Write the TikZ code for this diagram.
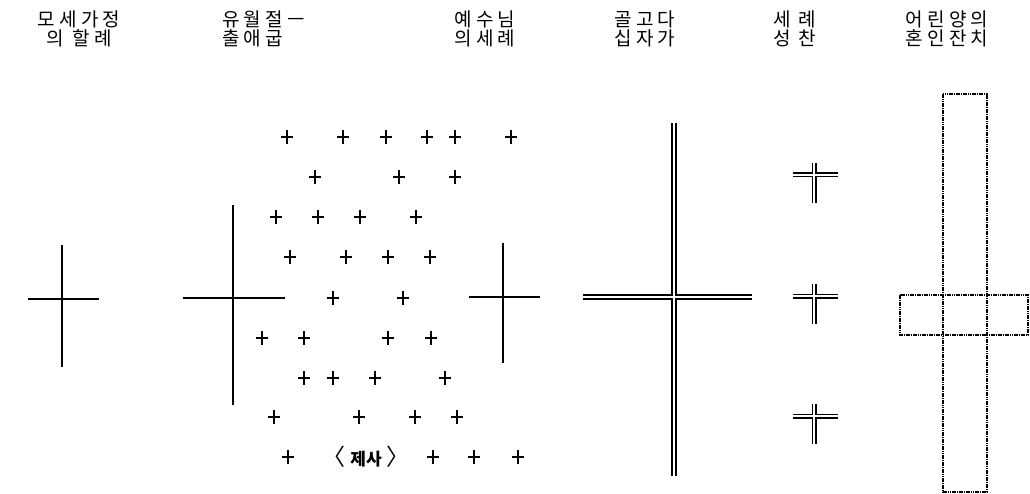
\documentclass[tikz,border=0pt]{standalone}
\usepackage{fontspec}
\newfontfamily\krsp[LetterSpace=22]{Noto Sans CJK KR}
\newfontfamily\krwide[LetterSpace=38]{Noto Sans CJK KR}
\newfontfamily\kr{Noto Sans CJK KR}
\tikzset{
  title/.style={font=\krsp\fontsize{19}{18.5}\selectfont, align=center, inner sep=0pt},
  titlewide/.style={font=\krwide\fontsize{19}{18.5}\selectfont, align=center, inner sep=0pt},
  single/.style={line width=2.6pt},
  dblout/.style={line width=6pt},
  dblin/.style={line width=1.7pt, white},
  sdblout/.style={line width=5pt},
  sdblin/.style={line width=1.3pt, white},
  dotbox/.style={line width=1.6pt, dash pattern=on 1.6pt off 0.7pt},
  pl/.pic={\draw[line width=2.8pt] (-6,0) -- (6,0) (0,-7) -- (0,7);},
  smallcross/.pic={
    \draw[sdblout] (0,-12) -- (0,28) (-21,0) -- (24,0);
    \draw[sdblin] (0,-12) -- (0,28) (-21,0) -- (24,0);
  }
}
\begin{document}
\begin{tikzpicture}[x=1pt,y=-1pt]
\useasboundingbox[fill=white] (0,0) rectangle (1030,494);

% titles
\node[title] (t1) at (79,29) {모세가정\\의 할례};
\node[title, align=left, anchor=west] (t2) at (222,29) {유월절ㅡ\\출애굽};
\node[title] (t3) at (485,29) {예수님\\의세례};
\node[title] (t4) at (645,29) {골고다\\십자가};
\node[titlewide] (t5) at (795,29) {세례\\성찬};
\node[title] (t6) at (947,29) {어린양의\\혼인잔치};

% 1 Moses cross
\draw[single] (62,245) -- (62,367) (28,299) -- (99,299);

% 2 Passover big cross
\draw[single] (233,205) -- (233,405) (183,298) -- (285,298);

% 3 Baptism cross
\draw[single] (503,243) -- (503,363) (469,297) -- (540,297);

% small plus signs
\foreach \x in {287,343,386,427,455,511} \pic at (\x,137) {pl};
\foreach \x in {315,399,455} \pic at (\x,177) {pl};
\foreach \x in {276,318,360,416} \pic at (\x,217) {pl};
\foreach \x in {290,346,388,430} \pic at (\x,257) {pl};
\foreach \x in {333,403} \pic at (\x,298) {pl};
\foreach \x in {262,304,388,431} \pic at (\x,338) {pl};
\foreach \x in {304,333,375,445} \pic at (\x,378) {pl};
\foreach \x in {274,359,415,457} \pic at (\x,417) {pl};
\foreach \x in {288,433,474,518} \pic at (\x,457) {pl};
\node[font=\kr\fontsize{23}{23}\selectfont, inner sep=0pt] (jesa) at (366,457)
  {〈\hspace{5pt}{\bfseries\fontsize{17}{17}\selectfont 제사}\hspace{5pt}〉};

% 4 Golgotha double cross
\draw[dblout] (674,123) -- (674,476) (583,297) -- (752,297);
\draw[dblin] (674,123) -- (674,476) (583,297) -- (752,297);

% 5 small double crosses
\pic at (814,175) {smallcross};
\pic at (814,296) {smallcross};
\pic at (814,416) {smallcross};

% 6 dotted cross
\draw[dotbox] (943,94) rectangle (987,492);
\draw[dotbox] (900,295) rectangle (1028,335);
\end{tikzpicture}
\end{document}
